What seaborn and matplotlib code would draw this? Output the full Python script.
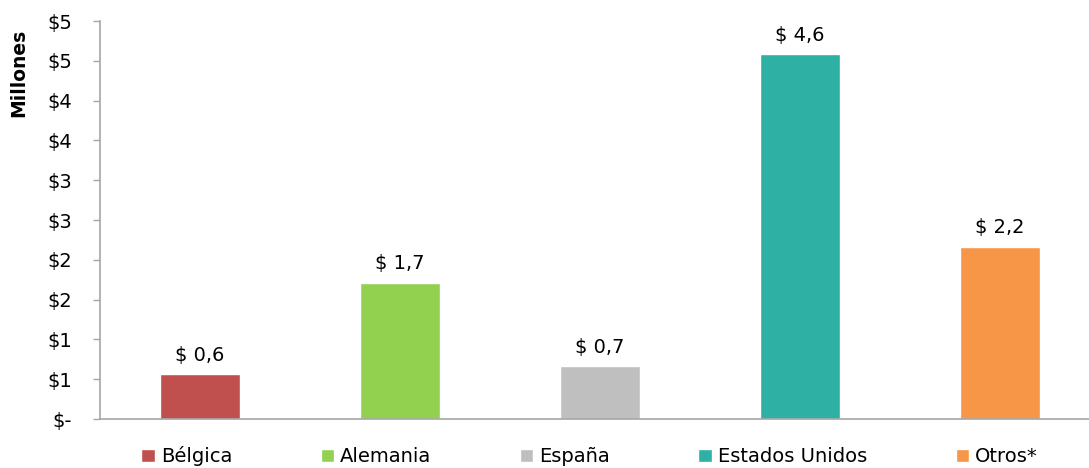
import pandas as pd
import matplotlib.pyplot as plt
import seaborn as sns
from matplotlib.patches import Patch

# Valores (millones de dólares)
paises = ["Bélgica", "Alemania", "España", "Estados Unidos", "Otros*"]
valores = [0.56, 1.71, 0.66, 4.58, 2.16]
etiquetas = ["$ 0,6", "$ 1,7", "$ 0,7", "$ 4,6", "$ 2,2"]
colores = ["#C0504D", "#92D050", "#BFBFBF", "#2EB0A4", "#F79646"]
yticks = [0, 0.5, 1, 1.5, 2, 2.5, 3, 3.5, 4, 4.5, 5]
ytick_labels = ["$-", "$1", "$1", "$2", "$2", "$3", "$3", "$4", "$4", "$5", "$5"]

df = pd.DataFrame({"Pais": paises, "Valor": valores})

sns.set_style("white")
plt.rcParams["font.family"] = ["DejaVu Sans"]
plt.rcParams["text.color"] = "black"

fig = plt.figure(figsize=(10.89, 4.68), dpi=100)
ax = fig.add_axes([100 / 1089, 1 - 419 / 468, 989 / 1089, 398 / 468])

sns.barplot(data=df, x="Pais", y="Valor", hue="Pais", palette=colores,
            width=0.4, legend=False, ax=ax, saturation=1)

for i, (v, t) in enumerate(zip(valores, etiquetas)):
    ax.annotate(t, (i, v), xytext=(0, 7), textcoords="offset points",
                ha="center", va="bottom", fontsize=14, color="black")

ax.set_ylim(0, 5)
ax.set_xlim(-0.5, 4.445)
ax.set_yticks(yticks)
ax.set_yticklabels(ytick_labels, fontsize=14, color="black")
ax.set_xticks([])
ax.set_xlabel("")
ax.set_ylabel("Millones", fontsize=13.5, fontweight="bold", loc="top", color="black")
ax.yaxis.set_label_coords(-0.073, 0.98)
ax.tick_params(axis="y", direction="out", length=5, color="#A6A6A6", width=1,
               pad=15, left=True)

for s in ["top", "right"]:
    ax.spines[s].set_visible(False)
for s in ["left", "bottom"]:
    ax.spines[s].set_color("#A6A6A6")
    ax.spines[s].set_linewidth(1.2)

handles = [Patch(facecolor=c, label=p) for p, c in zip(paises, colores)]
ax.legend(handles=handles, loc="upper center", bbox_to_anchor=(0.495, -0.025),
          ncol=5, frameon=False, fontsize=14, handlelength=0.7, handleheight=0.7,
          handletextpad=0.3, columnspacing=4.55, labelcolor="black")

fig.savefig("out.png", dpi=100)
plt.close(fig)
